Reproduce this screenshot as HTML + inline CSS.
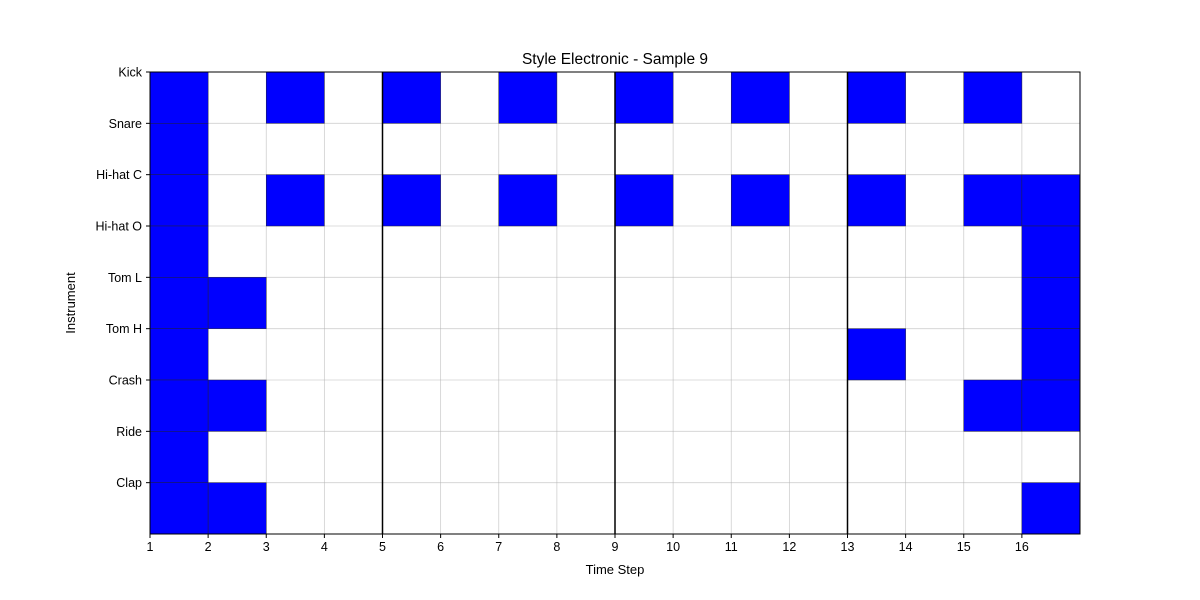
<!DOCTYPE html>
<html><head><meta charset="utf-8"><style>
body{margin:0;background:#fff;}
svg{display:block;font-family:"Liberation Sans","DejaVu Sans",sans-serif;}
</style></head><body>
<svg id="chart" width="1200" height="600">
<rect width="1200" height="600" fill="#fff"/>
</svg>
<script>
const instruments = ["Kick","Snare","Hi-hat C","Hi-hat O","Tom L","Tom H","Crash","Ride","Clap"];
const steps = [1,2,3,4,5,6,7,8,9,10,11,12,13,14,15,16];
const hitsKick = [1,3,5,7,9,11,13,15];
const hitsSnare = [1];
const hitsHiHatC = [1,3,5,7,9,11,13,15,16];
const hitsHiHatO = [1,16];
const hitsTomL = [1,2,16];
const hitsTomH = [1,13,16];
const hitsCrash = [1,2,15,16];
const hitsRide = [1];
const hitsClap = [1,2,16];
const hits = [hitsKick,hitsSnare,hitsHiHatC,hitsHiHatO,hitsTomL,hitsTomH,hitsCrash,hitsRide,hitsClap];
const barLines = [5,9,13];

const NS="http://www.w3.org/2000/svg";
const svg=document.getElementById('chart');
const L=150,R=1080,T=72,B=534;
const cw=(R-L)/steps.length, rh=(B-T)/instruments.length;
const xs=s=>L+(s-1)*cw;
const ys=i=>T+i*rh;
function mk(tag,attrs){const e=document.createElementNS(NS,tag);for(const k in attrs)e.setAttribute(k,attrs[k]);svg.appendChild(e);return e;}

// grid lines
for(let s=1;s<=steps.length;s++){
  const g=mk('line',{x1:xs(s),x2:xs(s),y1:T,y2:B,stroke:'#b0b0b0','stroke-width':0.8,'stroke-opacity':0.6});
  
  
}
for(let i=0;i<instruments.length;i++){
  const g=mk('line',{x1:L,x2:R,y1:ys(i),y2:ys(i),stroke:'#b0b0b0','stroke-width':0.8,'stroke-opacity':0.6});
  
  
}
// cells
hits.forEach((row,i)=>{
  row.forEach(s=>{
    const c=mk('rect',{x:xs(s),y:ys(i),width:cw,height:rh,fill:'#0000ff',stroke:'#202040','stroke-width':0.5});
    
    
  });
});
// bar lines
barLines.forEach(s=>{
  const l=mk('line',{x1:xs(s),x2:xs(s),y1:T,y2:B,stroke:'#000','stroke-width':1.5});
  
  
});
// axes frame
const f=mk('rect',{x:L,y:T,width:R-L,height:B-T,fill:'none',stroke:'#000','stroke-width':1});


// x ticks
steps.forEach(s=>{
  const t=mk('line',{x1:xs(s),x2:xs(s),y1:B,y2:B+4,stroke:'#000'});
  
  
  const tx=mk('text',{x:xs(s),y:B+17,'text-anchor':'middle','font-size':12.5,fill:'#000'});
  tx.textContent=s;
  
  
});
// y ticks
instruments.forEach((n,i)=>{
  const t=mk('line',{x1:L-4,x2:L,y1:ys(i),y2:ys(i),stroke:'#000'});
  
  
  const tx=mk('text',{x:L-8,y:ys(i)+4.5,'text-anchor':'end','font-size':12.5,fill:'#000'});
  tx.textContent=n;
  
  
});
const xt=mk('text',{x:(L+R)/2,y:574,'text-anchor':'middle','font-size':13,fill:'#000'});
xt.textContent='Time Step';


const yt=mk('text',{x:0,y:0,'text-anchor':'middle','font-size':13,fill:'#000',transform:'translate(75,303) rotate(-90)'});
yt.textContent='Instrument';


const ti=mk('text',{x:(L+R)/2,y:64,'text-anchor':'middle','font-size':15.5,fill:'#000'});
ti.textContent='Style Electronic - Sample 9';


</script>
</body></html>
